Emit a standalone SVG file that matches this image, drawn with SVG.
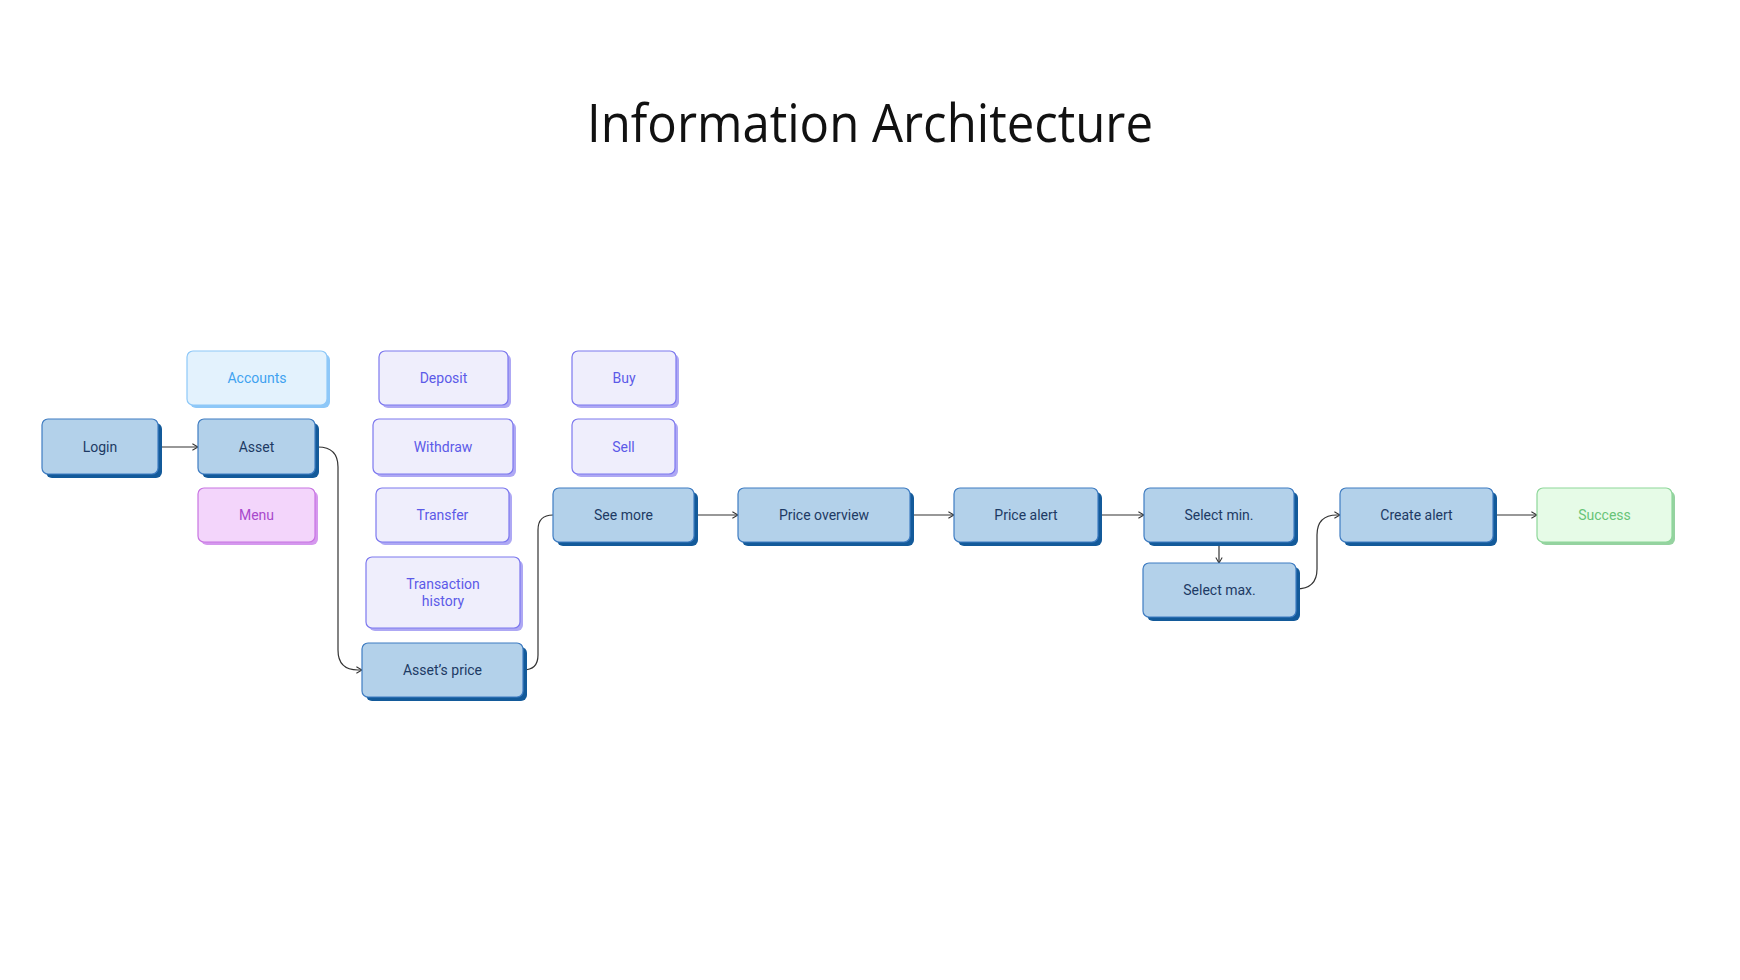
<svg xmlns="http://www.w3.org/2000/svg" width="1740" height="980" viewBox="0 0 1740 980">
<defs>
<marker id="arr" viewBox="0 0 10 10" refX="9" refY="5" markerWidth="8" markerHeight="8" markerUnits="userSpaceOnUse" orient="auto">
<path d="M2,1 L9,5 L2,9" fill="none" stroke="#333" stroke-width="1.3"/>
</marker>
<marker id="dot" viewBox="0 0 10 10" refX="5" refY="5" markerWidth="5" markerHeight="5" markerUnits="userSpaceOnUse">
<circle cx="5" cy="5" r="5" fill="#111"/>
</marker>
</defs>
<style>
.t{font-family:Roboto,"Liberation Sans",sans-serif;font-size:14px;text-anchor:middle;dominant-baseline:central}
.b .s{fill:#135a9a}.b .f{fill:#b3d1ea;stroke:#3f7cc2;stroke-width:1.2}.b .t{fill:#1d3a64}
.a .s{fill:#8ec8f8}.a .f{fill:#e3f2fd;stroke:#8ec8f8;stroke-width:1.2}.a .t{fill:#3fa2f0}
.p .s{fill:#aea8f4}.p .f{fill:#efeefc;stroke:#7c78ee;stroke-width:1.2}.p .t{fill:#5c5ae8}
.m .s{fill:#d598ee}.m .f{fill:#f3d5fb;stroke:#c874e2;stroke-width:1.2}.m .t{fill:#a848cc}
.g .s{fill:#95d2a0}.g .f{fill:#e6fbe7;stroke:#8ed79a;stroke-width:1.2}.g .t{fill:#68c477}
.c{fill:none;stroke:#333;stroke-width:1.2;marker-start:url(#dot)}
.ah{marker-end:url(#arr)}
</style>
<rect width="1740" height="980" fill="#fff"/>
<text x="870" y="142" font-family="'Open Sans','Noto Sans',sans-serif" font-size="53" text-anchor="middle" fill="#111" textLength="566" lengthAdjust="spacingAndGlyphs">Information Architecture</text>

<g id="connectors">
<path class="c ah" d="M158,447 H198"/>
<path class="c ah" d="M315,447 H318 Q338,447 338,467 V650 Q338,670 358,670 H362"/>
<path class="c" d="M523,670 Q538,670 538,655 V530 Q538,515 553,515"/>
<path class="c ah" d="M694,515 H738"/>
<path class="c ah" d="M910,515 H954"/>
<path class="c ah" d="M1098,515 H1144"/>
<path class="c ah" d="M1219,543 V563"/>
<path class="c ah" d="M1296,589 Q1317,589 1317,569 V535 Q1317,515 1337,515 H1340"/>
<path class="c ah" d="M1493,515 H1537"/>
</g>

<g id="login" class="b"><rect class="s" x="46" y="423" width="116" height="55" rx="6"/><rect class="f" x="42" y="419" width="116" height="55" rx="6"/><text class="t" x="100" y="446.5">Login</text></g>
<g id="asset" class="b"><rect class="s" x="202" y="423" width="117" height="55" rx="6"/><rect class="f" x="198" y="419" width="117" height="55" rx="6"/><text class="t" x="256.5" y="446.5">Asset</text></g>
<g id="accounts" class="a"><rect class="s" x="190" y="354" width="140" height="54" rx="6"/><rect class="f" x="187" y="351" width="140" height="54" rx="6"/><text class="t" x="257" y="378">Accounts</text></g>
<g id="menu" class="m"><rect class="s" x="201" y="491" width="117" height="54" rx="6"/><rect class="f" x="198" y="488" width="117" height="54" rx="6"/><text class="t" x="256.5" y="515">Menu</text></g>
<g id="deposit" class="p"><rect class="s" x="382" y="354" width="129" height="54" rx="6"/><rect class="f" x="379" y="351" width="129" height="54" rx="6"/><text class="t" x="443.5" y="378">Deposit</text></g>
<g id="withdraw" class="p"><rect class="s" x="376" y="422" width="140" height="55" rx="6"/><rect class="f" x="373" y="419" width="140" height="55" rx="6"/><text class="t" x="443" y="446.5">Withdraw</text></g>
<g id="transfer" class="p"><rect class="s" x="379" y="491" width="133" height="54" rx="6"/><rect class="f" x="376" y="488" width="133" height="54" rx="6"/><text class="t" x="442.5" y="515">Transfer</text></g>
<g id="transaction-history" class="p"><rect class="s" x="369" y="560" width="154" height="71" rx="6"/><rect class="f" x="366" y="557" width="154" height="71" rx="6"/><text class="t" x="443" y="584">Transaction</text><text class="t" x="443" y="601">history</text></g>
<g id="assets-price" class="b"><rect class="s" x="366" y="647" width="161" height="54" rx="6"/><rect class="f" x="362" y="643" width="161" height="54" rx="6"/><text class="t" x="442.5" y="670">Asset’s price</text></g>
<g id="buy" class="p"><rect class="s" x="575" y="354" width="104" height="54" rx="6"/><rect class="f" x="572" y="351" width="104" height="54" rx="6"/><text class="t" x="624" y="378">Buy</text></g>
<g id="sell" class="p"><rect class="s" x="575" y="422" width="103" height="55" rx="6"/><rect class="f" x="572" y="419" width="103" height="55" rx="6"/><text class="t" x="623.5" y="446.5">Sell</text></g>
<g id="see-more" class="b"><rect class="s" x="557" y="492" width="141" height="54" rx="6"/><rect class="f" x="553" y="488" width="141" height="54" rx="6"/><text class="t" x="623.5" y="515">See more</text></g>
<g id="price-overview" class="b"><rect class="s" x="742" y="492" width="172" height="54" rx="6"/><rect class="f" x="738" y="488" width="172" height="54" rx="6"/><text class="t" x="824" y="515">Price overview</text></g>
<g id="price-alert" class="b"><rect class="s" x="958" y="492" width="144" height="54" rx="6"/><rect class="f" x="954" y="488" width="144" height="54" rx="6"/><text class="t" x="1026" y="515">Price alert</text></g>
<g id="select-min" class="b"><rect class="s" x="1148" y="492" width="150" height="54" rx="6"/><rect class="f" x="1144" y="488" width="150" height="54" rx="6"/><text class="t" x="1219" y="515">Select min.</text></g>
<g id="select-max" class="b"><rect class="s" x="1147" y="567" width="153" height="54" rx="6"/><rect class="f" x="1143" y="563" width="153" height="54" rx="6"/><text class="t" x="1219.5" y="590">Select max.</text></g>
<g id="create-alert" class="b"><rect class="s" x="1344" y="492" width="153" height="54" rx="6"/><rect class="f" x="1340" y="488" width="153" height="54" rx="6"/><text class="t" x="1416.5" y="515">Create alert</text></g>
<g id="success" class="g"><rect class="s" x="1540" y="491" width="135" height="54" rx="6"/><rect class="f" x="1537" y="488" width="135" height="54" rx="6"/><text class="t" x="1604.5" y="515">Success</text></g>
</svg>
